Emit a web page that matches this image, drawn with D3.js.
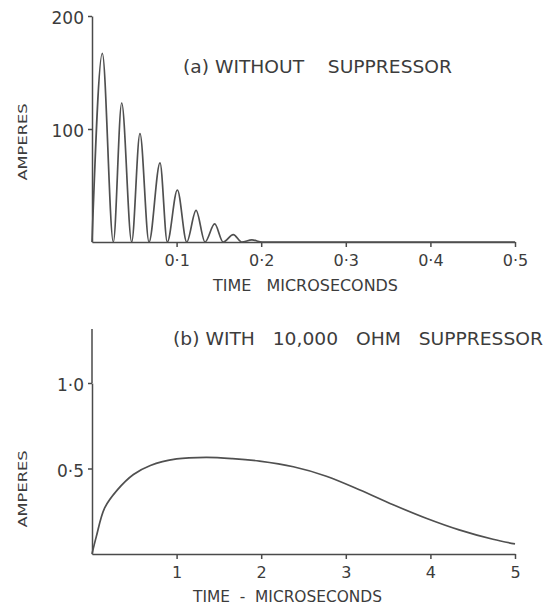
<!DOCTYPE html>
<html>
<head>
<meta charset="utf-8">
<script src="https://cdn.jsdelivr.net/npm/d3@7"></script>
<style>
  body { margin: 0; background: #fff; }
  text { font-family: "DejaVu Sans", sans-serif; fill: #3c3c3c; }
</style>
</head>
<body>
<svg></svg>
<script>
// (a) without suppressor: peaks and troughs
const timeA = [0, 0.0122, 0.0252, 0.0351, 0.0469, 0.0567, 0.0674, 0.0804, 0.089, 0.1009, 0.112,
    0.123, 0.1336, 0.145, 0.155, 0.167, 0.177, 0.189, 0.201, 0.5]
const ampA = [0, 167, 0, 123, 0, 96, 0, 70, 0, 46, 0, 28, 0, 16, 0, 6.5, 0, 1.8, 0, 0]
const ticksXA = [0.1, 0.2, 0.3, 0.4, 0.5]
const labelsXA = ['0·1', '0·2', '0·3', '0·4', '0·5']
const ticksYA = [100, 200]
const labelsYA = ['100', '200']

// (b) with 10,000 ohm suppressor
const timeB = [0, 0.05, 0.15, 0.3, 0.49, 0.69, 1.0, 1.35, 1.66, 1.98, 2.38, 2.77, 3.16, 3.56, 3.95, 4.34, 4.74, 5.0]
const ampB = [0, 0.1, 0.27, 0.375, 0.465, 0.518, 0.556, 0.565, 0.558, 0.543, 0.51, 0.455, 0.376, 0.288, 0.209, 0.141, 0.086, 0.059]
const ticksXB = [1, 2, 3, 4, 5]
const labelsXB = ['1', '2', '3', '4', '5']
const ticksYB = [0.5, 1.0]
const labelsYB = ['0·5', '1·0']

let width = 556
let height = 605
let svg = d3.select('svg')
    .attr('width', width)
    .attr('height', height)

svg.append('rect').attr('width', width).attr('height', height).attr('fill', '#fff')

let ink = '#4a4a4a'

function panel(o) {
    let x = d3.scaleLinear().domain(o.xDomain).range([92, 515])
    let y = d3.scaleLinear().domain(o.yDomain).range([o.base, o.top])

    let xAxis = d3.axisBottom(x).tickValues(o.ticksX)
        .tickFormat((d, i) => o.labelsX[i]).tickSize(5).tickSizeOuter(0).tickPadding(8)
    let gx = svg.append('g').attr('transform', 'translate(0,' + o.base + ')').call(xAxis)
    gx.selectAll('text').attr('font-size', 16).attr('fill', '#3c3c3c')

    let yAxis = d3.axisLeft(y).tickValues(o.ticksY)
        .tickFormat((d, i) => o.labelsY[i]).tickSize(4).tickSizeOuter(0).tickPadding(4)
    let gy = svg.append('g').attr('transform', 'translate(92,0)').call(yAxis)
    gy.selectAll('text').attr('font-size', 17).attr('fill', '#3c3c3c').attr('dy', '0.45em')

    svg.selectAll('.domain, .tick line').attr('stroke', ink).attr('stroke-width', 1.5)

    svg.append('path')
        .datum(o.t)
        .attr('fill', 'none')
        .attr('stroke', '#505050')
        .attr('stroke-width', 1.7)
        .attr('d', d3.line().x(d => x(d)).y((d, i) => y(o.v[i])).curve(o.curve))

    svg.append('text')
        .attr('x', o.title[1]).attr('y', o.title[2])
        .attr('font-size', 17)
        .attr('textLength', o.title[3]).attr('lengthAdjust', 'spacingAndGlyphs')
        .style('white-space', 'pre')
        .text(o.title[0])

    svg.append('text')
        .attr('x', o.xLabel[1]).attr('y', o.xLabel[2])
        .attr('font-size', 15)
        .attr('textLength', o.xLabel[3]).attr('lengthAdjust', 'spacingAndGlyphs')
        .style('white-space', 'pre')
        .text(o.xLabel[0])

    svg.append('text')
        .attr('transform', 'translate(27,' + o.yLabelMid + ') rotate(-90)')
        .attr('text-anchor', 'middle')
        .attr('font-size', 12)
        .attr('textLength', 77).attr('lengthAdjust', 'spacingAndGlyphs')
        .text('AMPERES')
}

panel({
    xDomain: [0, 0.5], yDomain: [0, 200], base: 242, top: 16,
    ticksX: ticksXA, labelsX: labelsXA, ticksY: ticksYA, labelsY: labelsYA,
    t: timeA, v: ampA, curve: d3.curveMonotoneX,
    title: ['(a) WITHOUT    SUPPRESSOR', 183, 73, 269],
    xLabel: ['TIME   MICROSECONDS', 213, 291, 185],
    yLabelMid: 142
})

panel({
    xDomain: [0, 5], yDomain: [0, 1.0], base: 554, top: 383,
    ticksX: ticksXB, labelsX: labelsXB, ticksY: ticksYB, labelsY: labelsYB,
    t: timeB, v: ampB, curve: d3.curveCatmullRom.alpha(0.5),
    title: ['(b) WITH   10,000   OHM   SUPPRESSOR', 173, 345, 370],
    xLabel: ['TIME  -  MICROSECONDS', 193, 602, 189],
    yLabelMid: 489
})

// the lower y axis runs above the 1·0 tick
svg.append('line')
    .attr('x1', 92).attr('x2', 92).attr('y1', 383).attr('y2', 329)
    .attr('stroke', ink).attr('stroke-width', 1.5)
</script>
</body>
</html>
